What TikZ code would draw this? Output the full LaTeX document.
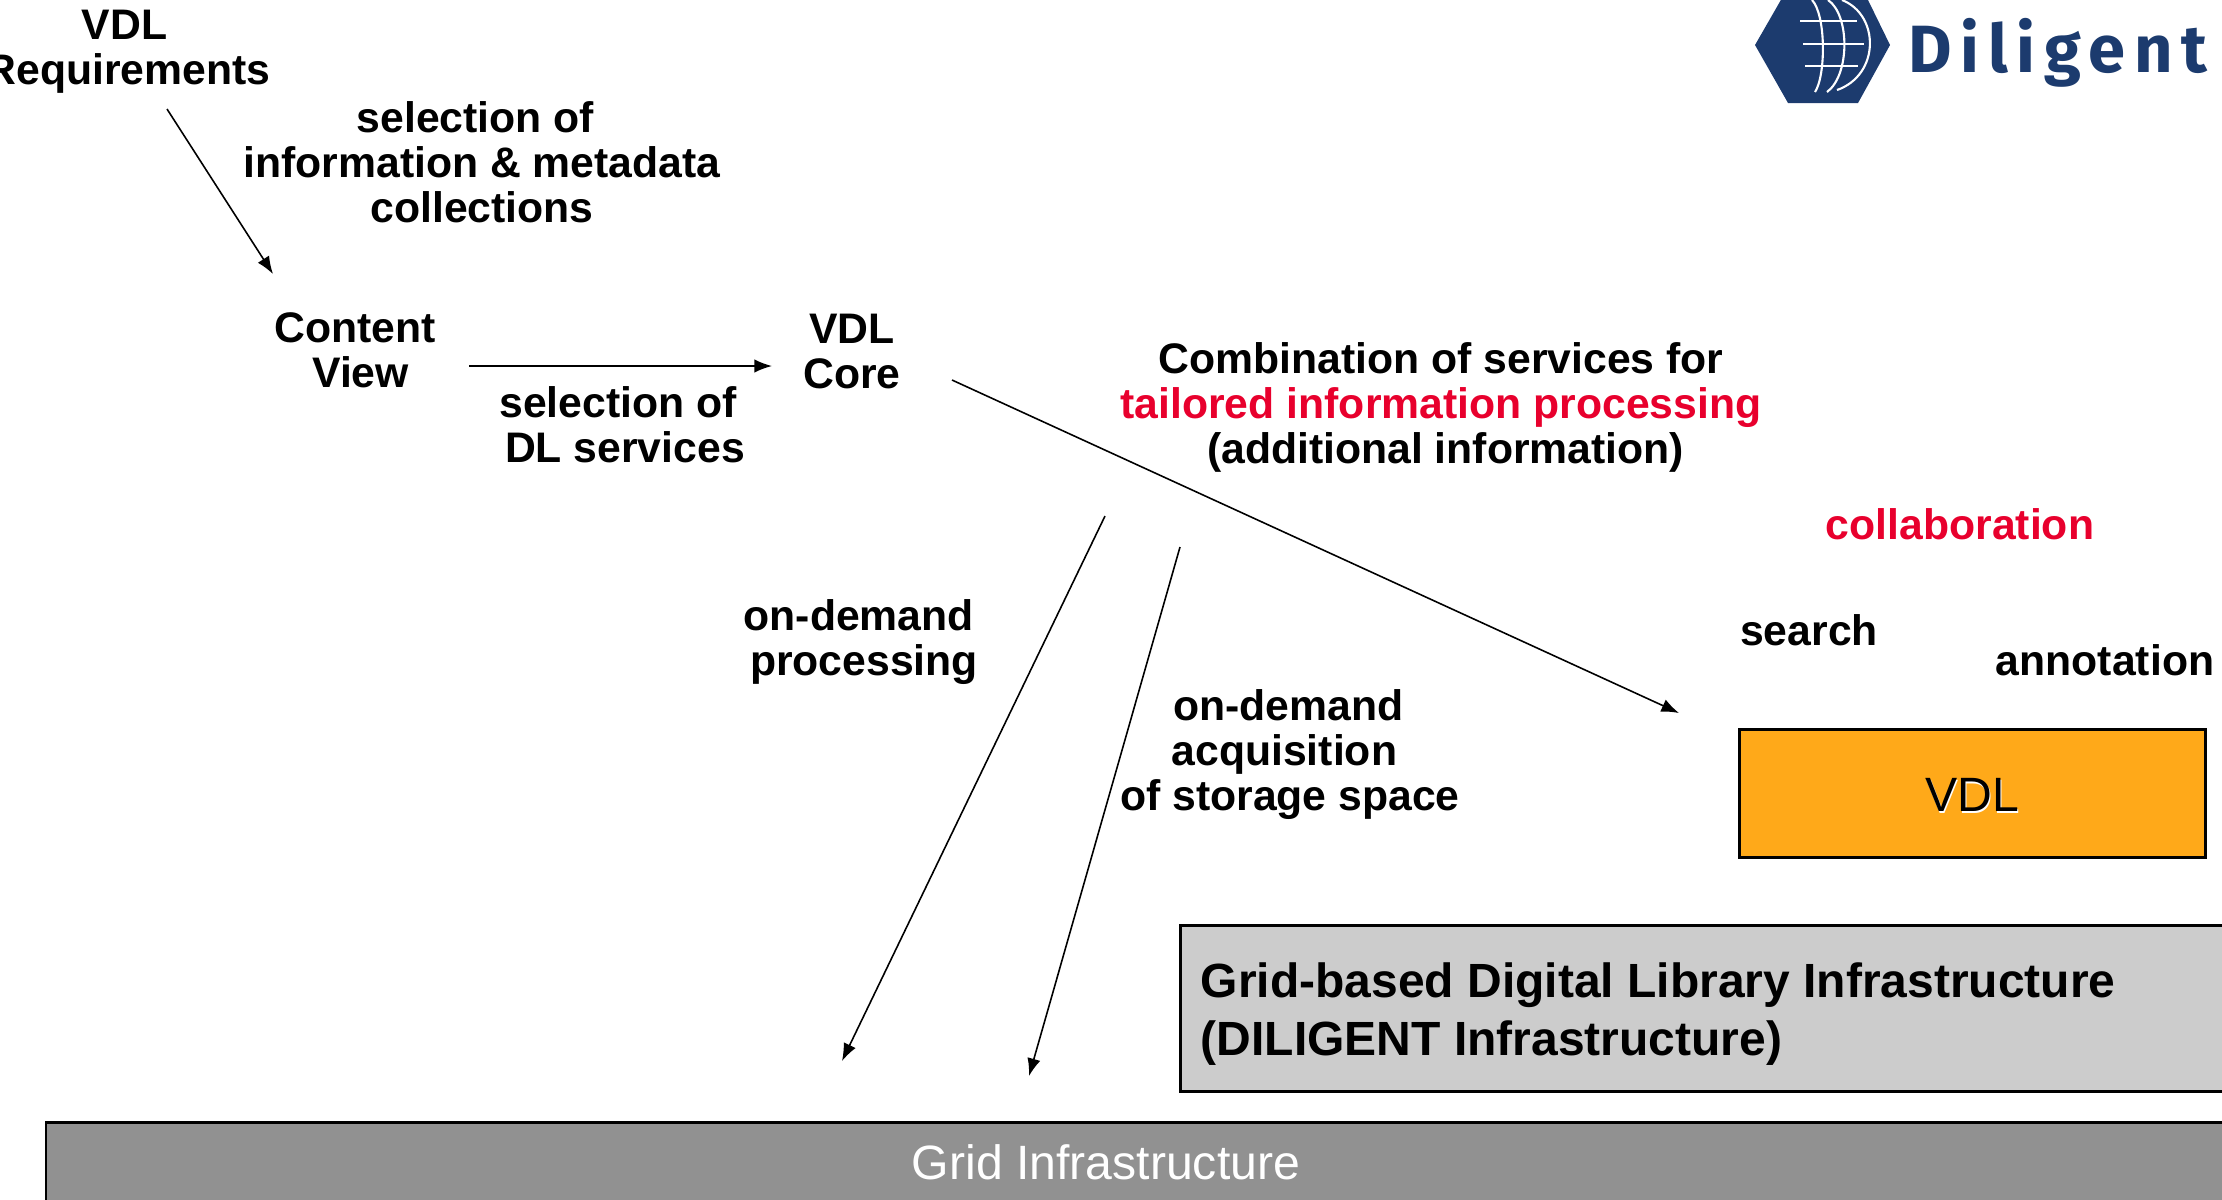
\documentclass[tikz,border=0pt]{standalone}
\usepackage{xcolor}
\usepackage{fontspec}
\setmainfont{Liberation Sans}
\newfontfamily\logofont[LetterSpace=13]{Fira Sans}
\usetikzlibrary{arrows.meta}
\definecolor{diligentblue}{HTML}{1C3B6E}
\definecolor{vdlorange}{HTML}{FFA919}
\definecolor{tailorred}{HTML}{E8002D}
\tikzset{
    lbl/.style={align=center, inner sep=0pt, font=\fontsize{12.15}{12.8}\selectfont\bfseries},
    plainlbl/.style={inner sep=0pt, font=\fontsize{13.7}{15}\selectfont},
    arr/.style={-{Latex[length=5pt,width=3.8pt]}, line width=0.45pt},
    boxfill/.style={draw=black, line width=0.85pt}
}
\begin{document}
\begin{tikzpicture}[x=0.01cm, y=-0.01cm]
    \useasboundingbox (0,0) rectangle (2222,1199);
    \clip (0,0) rectangle (2222,1199);

    % boxes
    \filldraw[boxfill, fill=black!43] (46,1122) rectangle (2300,1300);
    \filldraw[boxfill, fill=black!20] (1180,925) rectangle (2300,1091);
    \node[plainlbl, text=white] (grid) at (1106,1162) {Grid Infrastructure};
    \node[lbl, align=left, anchor=west, font=\fontsize{13.65}{16.4}\selectfont\bfseries] (dili) at (1200,1014) {Grid-based Digital Library Infrastructure\\(DILIGENT Infrastructure)};
    \filldraw[boxfill, fill=vdlorange] (1739,729) rectangle (2205,857);
    \node[plainlbl, text=white] at (1973.5,796.5) {VDL};
    \node[plainlbl] (vdl) at (1972,795) {VDL};

    % labels
    \node[lbl] (reqs) at (128,52) {VDL\kern2pt\\Requirements};
    \node[lbl] (selinfo) at (482,162) {selection of\kern3.8pt\\information \& metadata\\collections};
    \node[lbl] (content) at (355,350) {Content\\\hspace*{3.2pt}View};
    \node[lbl] (core) at (852,351) {VDL\\Core};
    \node[lbl] (seldl) at (625,425) {selection of\kern4pt\\DL services};
    \node[lbl] (combo) at (1441,407) {Combination of services for\\\textcolor{tailorred}{tailored information processing}\\\hspace*{2.6pt}(additional information)};
    \node[lbl, text=tailorred] (collab) at (1960,524) {collaboration};
    \node[lbl] (search) at (1809,630) {search};
    \node[lbl] (annot) at (2105,660) {annotation};
    \node[lbl] (procs) at (864,642) {on-demand\kern3pt\\processing};
    \node[lbl] (store) at (1290,755) {on-demand\kern1pt\\acquisition\kern3.2pt\\of storage space};

    % free ends of the arrows
    \coordinate (a1) at (167,109);
    \coordinate (a2) at (273,274);
    \coordinate (b1) at (469,366);
    \coordinate (b2) at (772,366);
    \coordinate (c1) at (952,380);
    \coordinate (c2) at (1679,713);
    \coordinate (d1) at (1105,516);
    \coordinate (d2) at (842,1061);
    \coordinate (e1) at (1180,547);
    \coordinate (e2) at (1029,1076);
    \draw[arr] (a1) -- (a2);
    \draw[arr] (b1) -- (b2);
    \draw[arr] (c1) -- (c2);
    \draw[arr] (d1) -- (d2);
    \draw[arr] (e1) -- (e2);

    % logo
    \fill[diligentblue] (1755,45) -- (1782,-2) -- (1867,-2) -- (1890,45) -- (1858,103) -- (1788,103) -- cycle;
    \draw[white, line width=0.6pt] (1800,21) -- (1857,21) (1803,44) -- (1864,44) (1805,66) -- (1858,66);
    \draw[white, line width=0.6pt] (1812,0) .. controls (1826,15) and (1826,75) .. (1815,92);
    \draw[white, line width=0.6pt] (1828,0) .. controls (1850,15) and (1850,75) .. (1827,92);
    \draw[white, line width=0.6pt] (1842,0) .. controls (1880,15) and (1880,75) .. (1837,90);
    \node[inner sep=0pt, anchor=base west, text=diligentblue, font=\fontsize{19}{19}\logofont\bfseries] (logo) at (1908,72) {Diligent};
\end{tikzpicture}
\end{document}
